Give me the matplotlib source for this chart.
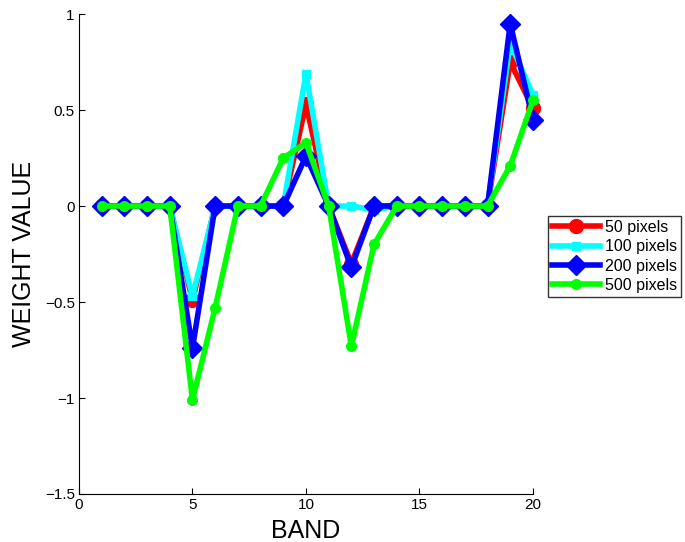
import matplotlib
matplotlib.use("Agg")
import matplotlib.pyplot as plt

plt.rcParams['font.family'] = ['Liberation Sans', 'DejaVu Sans']

bands = list(range(1, 21))
w50 = [0, 0, 0, 0, -0.49, 0, 0, 0, 0, 0.53, 0, -0.30, 0, 0, 0, 0, 0, 0, 0.75, 0.51]
w100 = [0, 0, 0, 0, -0.47, 0, 0, 0, 0, 0.69, 0, 0, -0.02, 0, 0, 0, 0, 0, 0.85, 0.58]
w200 = [0, 0, 0, 0, -0.74, 0, 0, 0, 0, 0.26, 0, -0.32, 0, 0, 0, 0, 0, 0, 0.95, 0.45]
w500 = [0, 0, 0, 0, -1.01, -0.53, 0, 0, 0.25, 0.33, 0, -0.73, -0.20, 0, 0, 0, 0, 0, 0.21, 0.55]
labels = ['50 pixels', '100 pixels', '200 pixels', '500 pixels']
yticks = [-1.5, -1, -0.5, 0, 0.5, 1]
yticklabels = ['\u22121.5', '\u22121', '\u22120.5', '0', '0.5', '1']
xticks = [0, 5, 10, 15, 20]

fig = plt.figure(figsize=(6.85, 5.42), dpi=100)
ax = fig.add_axes([0.1153, 0.0886, 0.778 - 0.1153, 0.974 - 0.0886])

ax.plot(bands, w50, color='#ff0000', lw=4, marker='o', ms=10, label=labels[0], clip_on=False)
ax.plot(bands, w100, color='#00ffff', lw=4, marker='s', ms=6, label=labels[1], clip_on=False)
ax.plot(bands, w200, color='#0000ff', lw=4, marker='D', ms=10, label=labels[2], clip_on=False)
ax.plot(bands, w500, color='#00ff00', lw=4, marker='o', ms=7, label=labels[3], clip_on=False)

ax.set_xlim(0, 20)
ax.set_ylim(-1.5, 1)
ax.set_xticks(xticks)
ax.set_xticklabels([str(t) for t in xticks])
ax.set_yticks(yticks)
ax.set_yticklabels(yticklabels)
ax.tick_params(direction='in', length=4, labelsize=11, pad=3)
ax.spines['top'].set_visible(False)
ax.spines['right'].set_visible(False)
ax.set_xlabel('BAND', fontsize=18, labelpad=5)
ax.set_ylabel('WEIGHT VALUE', fontsize=18, labelpad=6)

leg = ax.legend(loc='upper left', bbox_to_anchor=(548 / 685, (542 - 216) / 542),
                bbox_transform=fig.transFigure, fontsize=11.5,
                frameon=True, fancybox=False, edgecolor='black',
                borderpad=0.25, labelspacing=0.27, handlelength=3.0,
                handletextpad=0.3, borderaxespad=0)
leg.get_frame().set_linewidth(1)

fig.savefig('out.png', dpi=100)
